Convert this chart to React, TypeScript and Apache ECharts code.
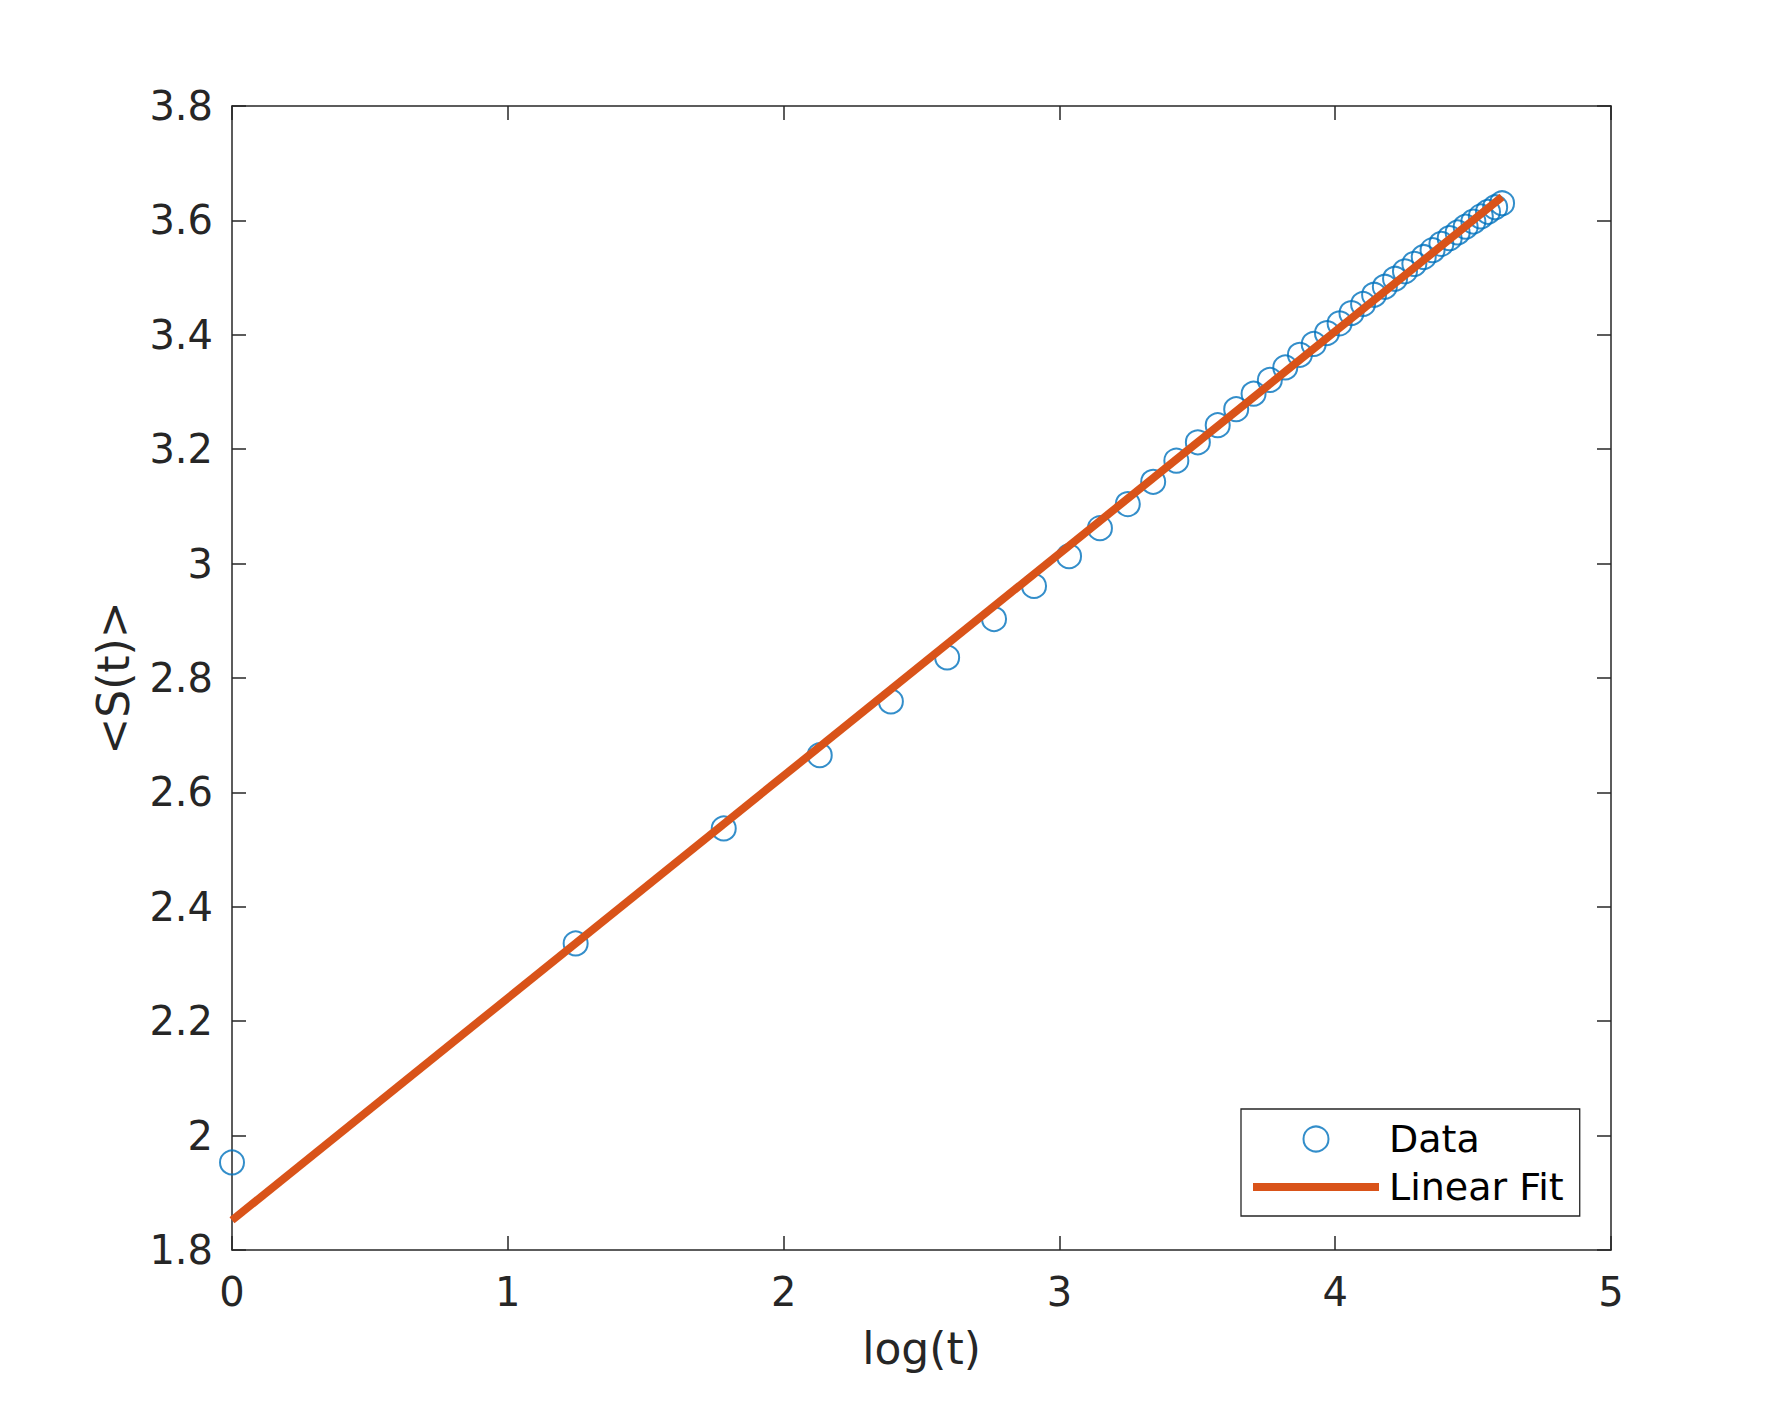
import React, { useEffect, useRef } from "react";
import * as echarts from "echarts";

const xData = [0, 1.246, 1.783, 2.131, 2.389, 2.593, 2.763, 2.908, 3.035, 3.147, 3.248, 3.34, 3.424, 3.502, 3.574, 3.641, 3.704, 3.763, 3.819, 3.872, 3.922, 3.97, 4.016, 4.059, 4.101, 4.141, 4.18, 4.217, 4.253, 4.287, 4.321, 4.353, 4.385, 4.415, 4.444, 4.473, 4.501, 4.528, 4.554, 4.58, 4.605];
const yData = [1.953, 2.336, 2.537, 2.665, 2.759, 2.836, 2.903, 2.961, 3.013, 3.062, 3.104, 3.143, 3.18, 3.212, 3.242, 3.27, 3.297, 3.321, 3.343, 3.365, 3.384, 3.403, 3.42, 3.438, 3.454, 3.47, 3.484, 3.498, 3.511, 3.524, 3.536, 3.548, 3.559, 3.569, 3.579, 3.589, 3.598, 3.607, 3.615, 3.623, 3.63];
const fitX = [0, 4.605];
const fitY = [1.852, 3.641];
const seriesNames = ["Data", "Linear Fit"];
const xAxisName = "log(t)";
const yAxisName = "<S(t)>";

const FONT = "DejaVu Sans";
const AX = "#262626";
const BLUE = "#0072BD";
const ORANGE = "#D95319";

export default function App() {
  const ref = useRef<HTMLDivElement>(null);
  useEffect(() => {
    if (!ref.current) return;
    const chart = echarts.init(ref.current, null, { renderer: "svg" });
    const fmt = (v: number) => String(Math.round(v * 10) / 10);
    const axisCommon = {
      axisLine: { show: true, onZero: false, lineStyle: { color: AX, width: 1.5 } },
      axisTick: { show: true, inside: true, length: 14, lineStyle: { color: AX, width: 1.5 } },
      splitLine: { show: false },
    };
    chart.setOption({
      animation: false,
      backgroundColor: "#fff",
      grid: { left: 232, top: 106, right: 170, bottom: 156, containLabel: false },
      xAxis: [
        {
          type: "value",
          min: 0,
          max: 5,
          interval: 1,
          position: "bottom",
          name: xAxisName,
          nameLocation: "middle",
          nameGap: 76,
          nameTextStyle: { fontFamily: FONT, fontSize: 44, color: AX },
          axisLabel: { fontFamily: FONT, fontSize: 40, color: AX, margin: 22, formatter: fmt },
          ...axisCommon,
        },
        {
          type: "value",
          min: 0,
          max: 5,
          interval: 1,
          position: "top",
          axisLabel: { show: false },
          ...axisCommon,
        },
      ],
      yAxis: [
        {
          type: "value",
          min: 1.8,
          max: 3.8,
          interval: 0.2,
          position: "left",
          name: yAxisName,
          nameLocation: "middle",
          nameGap: 97,
          nameTextStyle: { fontFamily: FONT, fontSize: 44, color: AX },
          axisLabel: { fontFamily: FONT, fontSize: 40, color: AX, margin: 19, formatter: fmt },
          ...axisCommon,
        },
        {
          type: "value",
          min: 1.8,
          max: 3.8,
          interval: 0.2,
          position: "right",
          axisLabel: { show: false },
          ...axisCommon,
        },
      ],
      legend: {
        orient: "vertical",
        left: 1241,
        top: 1109,
        padding: [10, 16, 9, 12],
        borderColor: AX,
        borderWidth: 1.3,
        backgroundColor: "#fff",
        itemWidth: 126,
        itemHeight: 25,
        itemGap: 8,
        symbolKeepAspect: true,
        textStyle: { fontFamily: FONT, fontSize: 38, color: "#000", lineHeight: 40, padding: [0, 0, 0, 5] },
        data: [
          { name: seriesNames[0], icon: "circle", itemStyle: { color: "transparent", borderColor: BLUE, borderWidth: 2 } },
          { name: seriesNames[1], icon: "path://M0 0H126V8H0Z", itemStyle: { color: ORANGE, borderWidth: 0 } },
        ],
      },
      series: [
        {
          name: seriesNames[0],
          type: "scatter",
          symbol: "circle",
          symbolSize: 24,
          itemStyle: { color: "transparent", borderColor: BLUE, borderWidth: 2 },
          data: xData.map((x, i) => [x, yData[i]]),
          z: 2,
        },
        {
          name: seriesNames[1],
          type: "line",
          symbol: "none",
          lineStyle: { color: ORANGE, width: 8 },
          itemStyle: { color: ORANGE },
          data: fitX.map((x, i) => [x, fitY[i]]),
          z: 3,
        },
      ],
    });
    return () => chart.dispose();
  }, []);
  return <div ref={ref} style={{ position: "absolute", left: 0, top: 0, width: 1781, height: 1406 }} />;
}
